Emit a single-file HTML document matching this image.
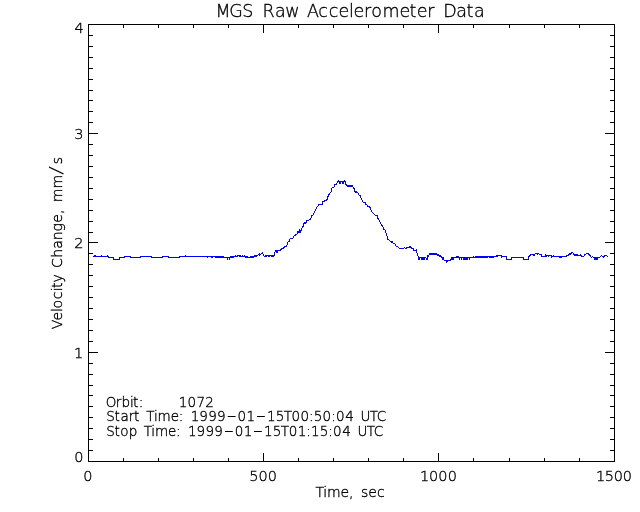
<!DOCTYPE html>
<html><head><meta charset="utf-8"><title>MGS Raw Accelerometer Data</title>
<style>html,body{margin:0;padding:0;background:#fff;width:640px;height:512px;overflow:hidden}svg{display:block}text{will-change:transform;white-space:pre}
text{font-family:"DejaVu Sans", "Liberation Sans", sans-serif;font-weight:200;fill:#000;stroke:#000;stroke-width:0.35px}</style></head>
<body><svg width="640" height="512" viewBox="0 0 640 512">
<rect width="640" height="512" fill="#fff"/>
<path shape-rendering="crispEdges" fill="#000" d="M88 24h527v1h-527zM88 461h527v1h-527zM88 24h1v438h-1zM614 24h1v438h-1zM123 458h1v3h-1zM123 25h1v3h-1zM158 458h1v3h-1zM158 25h1v3h-1zM193 458h1v3h-1zM193 25h1v3h-1zM228 458h1v3h-1zM228 25h1v3h-1zM263 453h1v8h-1zM263 25h1v8h-1zM298 458h1v3h-1zM298 25h1v3h-1zM333 458h1v3h-1zM333 25h1v3h-1zM368 458h1v3h-1zM368 25h1v3h-1zM403 458h1v3h-1zM403 25h1v3h-1zM438 453h1v8h-1zM438 25h1v8h-1zM473 458h1v3h-1zM473 25h1v3h-1zM509 458h1v3h-1zM509 25h1v3h-1zM544 458h1v3h-1zM544 25h1v3h-1zM579 458h1v3h-1zM579 25h1v3h-1zM89 450h4v1h-4zM610 450h4v1h-4zM89 439h4v1h-4zM610 439h4v1h-4zM89 428h4v1h-4zM610 428h4v1h-4zM89 417h4v1h-4zM610 417h4v1h-4zM89 406h4v1h-4zM610 406h4v1h-4zM89 395h4v1h-4zM610 395h4v1h-4zM89 385h4v1h-4zM610 385h4v1h-4zM89 374h4v1h-4zM610 374h4v1h-4zM89 363h4v1h-4zM610 363h4v1h-4zM89 352h9v1h-9zM605 352h9v1h-9zM89 341h4v1h-4zM610 341h4v1h-4zM89 330h4v1h-4zM610 330h4v1h-4zM89 319h4v1h-4zM610 319h4v1h-4zM89 308h4v1h-4zM610 308h4v1h-4zM89 297h4v1h-4zM610 297h4v1h-4zM89 286h4v1h-4zM610 286h4v1h-4zM89 275h4v1h-4zM610 275h4v1h-4zM89 264h4v1h-4zM610 264h4v1h-4zM89 253h4v1h-4zM610 253h4v1h-4zM89 242h9v1h-9zM605 242h9v1h-9zM89 232h4v1h-4zM610 232h4v1h-4zM89 221h4v1h-4zM610 221h4v1h-4zM89 210h4v1h-4zM610 210h4v1h-4zM89 199h4v1h-4zM610 199h4v1h-4zM89 188h4v1h-4zM610 188h4v1h-4zM89 177h4v1h-4zM610 177h4v1h-4zM89 166h4v1h-4zM610 166h4v1h-4zM89 155h4v1h-4zM610 155h4v1h-4zM89 144h4v1h-4zM610 144h4v1h-4zM89 133h9v1h-9zM605 133h9v1h-9zM89 122h4v1h-4zM610 122h4v1h-4zM89 111h4v1h-4zM610 111h4v1h-4zM89 100h4v1h-4zM610 100h4v1h-4zM89 90h4v1h-4zM610 90h4v1h-4zM89 79h4v1h-4zM610 79h4v1h-4zM89 68h4v1h-4zM610 68h4v1h-4zM89 57h4v1h-4zM610 57h4v1h-4zM89 46h4v1h-4zM610 46h4v1h-4zM89 35h4v1h-4zM610 35h4v1h-4z"/>
<path shape-rendering="crispEdges" fill="#00f" d="M93 256h1v1h-1zM94 255h2v2h-2zM96 256h5v1h-5zM101 255h1v2h-1zM102 256h5v1h-5zM107 255h1v2h-1zM108 256h1v2h-1zM109 257h4v1h-4zM113 257h1v3h-1zM114 259h5v1h-5zM119 257h1v3h-1zM120 257h4v1h-4zM124 256h1v2h-1zM125 256h5v1h-5zM130 256h1v2h-1zM131 257h9v1h-9zM140 256h1v2h-1zM141 256h10v1h-10zM151 256h1v2h-1zM152 257h10v1h-10zM162 256h1v2h-1zM163 256h5v1h-5zM168 256h1v2h-1zM169 257h10v1h-10zM179 256h1v2h-1zM180 256h5v1h-5zM185 255h1v2h-1zM186 256h21v1h-21zM207 256h1v2h-1zM208 256h3v1h-3zM211 256h2v2h-2zM213 256h2v1h-2zM215 256h9v2h-9zM224 257h3v1h-3zM227 257h1v3h-1zM228 257h1v1h-1zM229 257h1v3h-1zM230 256h4v2h-4zM234 256h1v1h-1zM235 255h1v2h-1zM236 256h1v1h-1zM237 255h1v2h-1zM238 255h1v1h-1zM239 255h2v2h-2zM241 256h1v1h-1zM242 255h1v2h-1zM243 256h1v1h-1zM244 255h1v2h-1zM245 256h3v2h-3zM248 257h2v1h-2zM250 256h4v2h-4zM254 255h3v2h-3zM257 255h1v1h-1zM258 254h1v1h-1zM259 253h1v3h-1zM260 254h1v1h-1zM261 253h1v1h-1zM262 252h1v2h-1zM263 254h1v2h-1zM264 256h1v1h-1zM265 255h2v2h-2zM267 255h1v1h-1zM268 255h2v2h-2zM270 255h1v1h-1zM271 255h3v2h-3zM274 252h1v4h-1zM275 250h1v2h-1zM276 250h2v3h-2zM278 250h2v1h-2zM280 249h1v2h-1zM281 248h1v2h-1zM282 248h1v1h-1zM283 247h1v2h-1zM284 246h1v2h-1zM285 246h1v1h-1zM286 245h1v2h-1zM287 242h1v3h-1zM288 241h1v1h-1zM289 239h1v3h-1zM290 238h3v1h-3zM293 236h1v2h-1zM294 235h1v1h-1zM295 234h1v2h-1zM296 234h1v1h-1zM297 231h1v3h-1zM298 231h1v2h-1zM299 229h1v4h-1zM300 230h1v3h-1zM301 228h1v3h-1zM302 226h1v2h-1zM303 223h1v4h-1zM304 222h2v2h-2zM306 220h1v3h-1zM307 220h2v1h-2zM309 219h1v1h-1zM310 218h1v2h-1zM311 215h1v3h-1zM312 215h1v1h-1zM313 213h1v2h-1zM314 211h1v2h-1zM315 209h1v2h-1zM316 207h1v2h-1zM317 206h1v1h-1zM318 204h1v2h-1zM319 204h3v1h-3zM322 201h1v4h-1zM323 201h1v1h-1zM324 200h1v2h-1zM325 200h1v1h-1zM326 199h1v2h-1zM327 196h1v4h-1zM328 194h1v3h-1zM329 193h1v2h-1zM330 192h1v1h-1zM331 188h1v4h-1zM332 187h2v1h-2zM334 184h1v3h-1zM335 184h1v1h-1zM336 183h1v2h-1zM337 181h1v2h-1zM338 180h1v2h-1zM339 181h2v3h-2zM341 181h1v1h-1zM342 181h2v3h-2zM344 180h1v2h-1zM345 181h1v4h-1zM346 184h1v2h-1zM347 185h6v2h-6zM353 187h1v2h-1zM354 188h1v4h-1zM355 191h2v2h-2zM357 192h1v1h-1zM358 193h1v2h-1zM359 195h1v1h-1zM360 195h1v3h-1zM361 198h1v2h-1zM362 200h1v2h-1zM363 202h2v1h-2zM365 202h1v3h-1zM366 204h1v1h-1zM367 205h1v2h-1zM368 206h1v1h-1zM369 206h1v2h-1zM370 207h1v3h-1zM371 210h1v2h-1zM372 212h1v1h-1zM373 213h1v1h-1zM374 214h1v1h-1zM375 215h2v1h-2zM377 215h1v4h-1zM378 218h1v2h-1zM379 220h1v2h-1zM380 222h1v2h-1zM381 224h1v2h-1zM382 225h1v2h-1zM383 227h1v3h-1zM384 229h1v1h-1zM385 230h1v3h-1zM386 233h1v3h-1zM387 236h1v4h-1zM388 239h1v1h-1zM389 240h1v1h-1zM390 241h1v1h-1zM391 241h2v2h-2zM393 243h2v1h-2zM395 244h1v2h-1zM396 246h2v1h-2zM398 247h1v1h-1zM399 248h5v1h-5zM404 247h1v1h-1zM405 248h1v1h-1zM406 247h1v2h-1zM407 247h2v1h-2zM409 246h2v2h-2zM411 247h1v2h-1zM412 248h1v1h-1zM413 248h1v3h-1zM414 250h2v1h-2zM416 249h1v4h-1zM417 253h1v3h-1zM418 256h1v4h-1zM419 257h1v3h-1zM420 257h1v1h-1zM421 257h4v3h-4zM425 257h1v1h-1zM426 258h1v2h-1zM427 255h1v5h-1zM428 255h1v2h-1zM429 253h8v2h-8zM437 254h2v2h-2zM439 255h2v2h-2zM441 256h1v2h-1zM442 257h2v3h-2zM444 260h2v1h-2zM446 260h1v3h-1zM447 260h1v2h-1zM448 260h2v1h-2zM450 259h1v2h-1zM451 257h3v3h-3zM454 257h2v1h-2zM456 256h3v2h-3zM459 257h1v3h-1zM460 257h1v1h-1zM461 257h1v3h-1zM462 257h1v1h-1zM463 257h5v3h-5zM468 257h1v1h-1zM469 257h1v3h-1zM470 257h3v1h-3zM473 256h1v2h-1zM474 257h1v1h-1zM475 256h13v2h-13zM488 256h1v1h-1zM489 256h5v2h-5zM494 256h2v1h-2zM496 255h2v2h-2zM498 255h3v1h-3zM501 255h1v3h-1zM502 256h4v1h-4zM506 256h1v4h-1zM507 259h4v1h-4zM511 257h1v3h-1zM512 257h11v1h-11zM523 257h1v3h-1zM524 259h4v1h-4zM528 256h1v4h-1zM529 255h1v2h-1zM530 254h1v2h-1zM531 254h2v1h-2zM533 254h2v2h-2zM535 253h2v1h-2zM537 253h1v2h-1zM538 253h1v1h-1zM539 254h2v1h-2zM541 254h1v3h-1zM542 256h3v1h-3zM545 254h1v3h-1zM546 255h1v2h-1zM547 255h1v1h-1zM548 255h1v2h-1zM549 255h2v1h-2zM551 255h1v3h-1zM552 256h1v1h-1zM553 255h1v2h-1zM554 256h5v1h-5zM559 256h3v2h-3zM562 256h4v1h-4zM566 255h1v2h-1zM567 255h1v1h-1zM568 254h1v2h-1zM569 253h2v2h-2zM571 252h1v2h-1zM572 252h1v1h-1zM573 253h1v2h-1zM574 254h4v2h-4zM578 255h2v1h-2zM580 254h1v2h-1zM581 255h1v2h-1zM582 256h2v1h-2zM584 254h1v2h-1zM585 254h1v1h-1zM586 253h2v1h-2zM588 253h1v2h-1zM589 254h1v2h-1zM590 255h1v2h-1zM591 257h1v1h-1zM592 256h1v1h-1zM593 257h1v1h-1zM594 257h4v3h-4zM598 257h2v1h-2zM600 256h1v1h-1zM601 255h1v1h-1zM602 256h1v1h-1zM603 256h1v2h-1zM604 255h1v2h-1zM605 255h2v1h-2zM607 256h1v1h-1z"/>
<text font-size="17.5" xml:space="preserve"><tspan x="215.55 229.18 242.22 255.41 262.43 274.96 285.22 300.27 306.88 318.32 328.67 338.48 349.00 353.44 364.04 371.33 382.48 399.45 409.46 416.71 427.31 436.60 443.23 456.15 466.40 473.98" y="17">MGS Raw Accelerometer Data</tspan></text>
<text font-size="14" transform="rotate(-90 62 0)" xml:space="preserve"><tspan x="-267.28 -258.54 -250.12 -246.51 -237.36 -229.36 -226.10 -220.55 -211.26 -206.06 -195.77 -186.83 -178.25 -169.46 -160.81 -152.11 -146.26 -140.30 -126.47" y="0">Velocity Change, mm</tspan><tspan x="-113.14" y="-0.32" font-size="17.92" textLength="9.06" lengthAdjust="spacingAndGlyphs" stroke-width="0">/</tspan><tspan x="-102.30" y="0">s</tspan></text>
<text font-size="14.5" xml:space="preserve"><tspan x="74.56" y="33">4</tspan></text>
<text font-size="14.5" xml:space="preserve"><tspan x="74.32" y="139">3</tspan></text>
<text font-size="14.5" xml:space="preserve"><tspan x="74.33" y="248">2</tspan></text>
<text font-size="14.5" xml:space="preserve"><tspan x="73.96" y="358">1</tspan></text>
<text font-size="14.5" xml:space="preserve"><tspan x="74.13" y="462">0</tspan></text>
<text font-size="14.5" xml:space="preserve"><tspan x="83.13" y="481">0</tspan></text>
<text font-size="14.5" xml:space="preserve"><tspan x="249.22 258.41 267.67" y="481">500</tspan></text>
<text font-size="14.5" xml:space="preserve"><tspan x="419.98 429.07 438.37 447.67" y="481">1000</tspan></text>
<text font-size="14.5" xml:space="preserve"><tspan x="595.91 604.80 613.76 622.78" y="481">1500</tspan></text>
<text font-size="14" xml:space="preserve"><tspan x="315.42 323.28 326.96 340.44 349.07 354.86 360.94 368.26 376.90" y="497">Time, sec</tspan></text>
<text font-size="13.5" xml:space="preserve"><tspan x="105.72 115.87 121.50 129.94 133.05 138.74 144.60 151.66 158.72 165.77 172.83 178.84 187.46 196.45 205.28" y="407">Orbit:     1072</tspan></text>
<text font-size="13.5" xml:space="preserve"><tspan x="106.27 114.58 120.42 128.78 134.08 141.25 146.37 153.99 157.61 170.69 178.80 184.69 190.74 199.31 208.17 217.04" y="421">Start Time: 1999</tspan><tspan x="226.72" y="419.70" font-size="13.50" textLength="9.74" lengthAdjust="spacingAndGlyphs">-</tspan><tspan x="237.52 246.59" y="421">01</tspan><tspan x="255.98" y="419.70" font-size="13.50" textLength="9.74" lengthAdjust="spacingAndGlyphs">-</tspan><tspan x="266.98 275.70 283.76 291.59 300.45 309.10 313.81 322.61 331.26 335.91 345.18 354.88 360.50 369.74 376.71" y="421">15T00:50:04 UTC</tspan></text>
<text font-size="13.5" xml:space="preserve"><tspan x="106.26 114.57 120.19 128.65 138.55 143.65 151.27 154.88 167.94 176.04 181.92 187.97 196.52 205.38 214.23" y="436">Stop Time: 1999</tspan><tspan x="223.90" y="434.70" font-size="13.50" textLength="9.74" lengthAdjust="spacingAndGlyphs">-</tspan><tspan x="234.68 243.74" y="436">01</tspan><tspan x="253.11" y="434.70" font-size="13.50" textLength="9.74" lengthAdjust="spacingAndGlyphs">-</tspan><tspan x="264.10 272.81 280.86 288.68 297.74 306.17 311.01 319.72 328.30 332.94 342.20 351.88 357.50 366.72 373.68" y="436">15T01:15:04 UTC</tspan></text>
</svg></body></html>
